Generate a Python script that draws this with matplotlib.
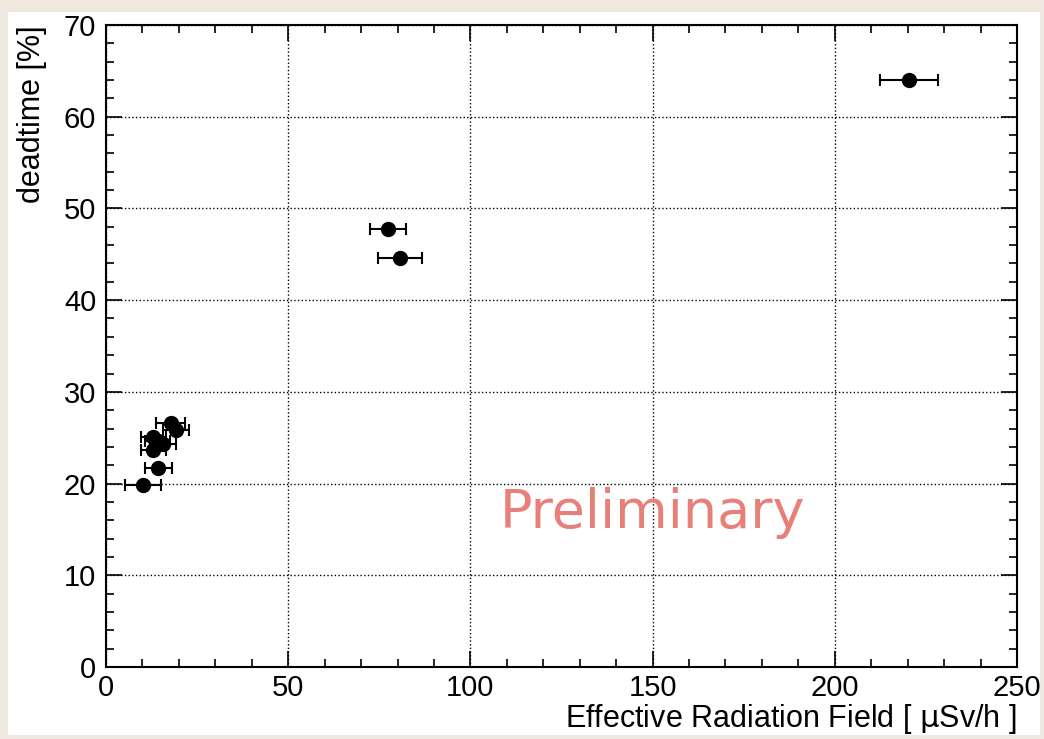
import matplotlib
matplotlib.use("Agg")
import matplotlib.pyplot as plt
from matplotlib.patches import Rectangle
from matplotlib.ticker import MultipleLocator

# measured points: radiation field [uSv/h], error, deadtime [%]
field = [10.2, 14.4, 17.8, 19.2, 13.0, 13.0, 15.6, 14.2, 77.4, 80.7, 220.4]
field_err = [5.0, 3.7, 4.0, 3.6, 3.5, 3.5, 3.5, 3.5, 5.0, 6.0, 8.0]
deadtime = [19.85, 21.7, 26.6, 25.8, 25.1, 23.7, 24.3, 24.6, 47.8, 44.6, 64.0]

fig = plt.figure(figsize=(10.44, 7.39), dpi=100)
fig.patch.set_facecolor('#efe8df')
fig.patches.append(Rectangle((8/1044, 4/739), 1032/1044, 723/739,
                             transform=fig.transFigure, facecolor='white',
                             edgecolor='none', zorder=-10))

ax = fig.add_axes([106/1044, 72/739, 911/1044, 642/739])
ax.errorbar(field, deadtime, xerr=field_err, fmt='o', color='black',
            ms=10, elinewidth=1.5, capsize=4, capthick=1.5, zorder=3)

ax.set_xlim(0, 250)
ax.set_ylim(0, 70)
ax.xaxis.set_major_locator(MultipleLocator(50))
ax.xaxis.set_minor_locator(MultipleLocator(10))
ax.yaxis.set_major_locator(MultipleLocator(10))
ax.yaxis.set_minor_locator(MultipleLocator(2))
ax.tick_params(which='both', direction='in', top=True, right=True, width=1.2)
ax.tick_params(which='major', length=11.5, labelsize=21)
ax.tick_params(which='minor', length=5.8)
ax.tick_params(axis='x', pad=5)
ax.tick_params(axis='y', pad=7)
ax.grid(True, which='major', linestyle=':', color='black', linewidth=1.0)
for s in ax.spines.values():
    s.set_linewidth(1.5)

fam = ['Liberation Sans Narrow', 'Liberation Sans', 'DejaVu Sans']
for lab in ax.get_xticklabels() + ax.get_yticklabels():
    lab.set_family(fam)

ax.set_xlabel('Effective Radiation Field [ $\\mathrm{\\mu}$Sv/h ]', fontsize=22,
              family=fam, loc='right', labelpad=0)
ax.set_ylabel('deadtime [%]', fontsize=22, family=fam, loc='top', labelpad=12)

ax.text(0.60, 0.24, 'Preliminary', transform=ax.transAxes, fontsize=39,
        color='#e8807a', ha='center', va='center', family='DejaVu Sans')

fig.savefig('out.png', dpi=100, facecolor=fig.get_facecolor())
